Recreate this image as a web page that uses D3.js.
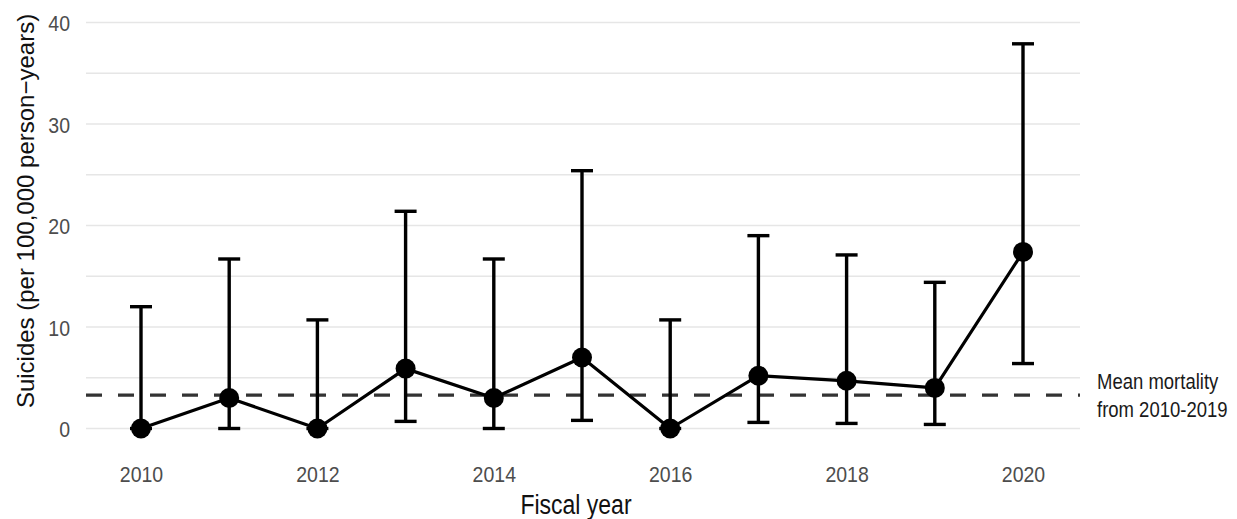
<!DOCTYPE html>
<html>
<head>
<meta charset="utf-8">
<script src="https://cdn.jsdelivr.net/npm/d3@7"></script>
<style>
  html, body { margin: 0; padding: 0; background: #fff; }
  svg { display: block; font-family: "Liberation Sans", Arial, Helvetica, sans-serif; }
</style>
</head>
<body>
<svg id="chart" width="1237" height="519"></svg>
<script>
// Suicide rate per fiscal year with 95% confidence intervals
const years = [2010, 2011, 2012, 2013, 2014, 2015, 2016, 2017, 2018, 2019, 2020];
const rate  = [0, 3.0, 0, 5.9, 3.0, 7.0, 0, 5.2, 4.7, 4.0, 17.4];
const lower = [0, 0, 0, 0.7, 0, 0.8, 0, 0.6, 0.5, 0.4, 6.4];
const upper = [12.0, 16.7, 10.7, 21.4, 16.7, 25.4, 10.7, 19.0, 17.1, 14.4, 37.9];
const xTicks = [2010, 2012, 2014, 2016, 2018, 2020];
const yTicks = [0, 10, 20, 30, 40];
const yGrid  = [0, 5, 10, 15, 20, 25, 30, 35, 40];
const baselineYears = years.filter(y => y <= 2019);
const meanLabel = ["Mean mortality", "from 2010-2019"];

const rows = years.map((yr, i) => ({ yr, rate: rate[i], lo: lower[i], hi: upper[i] }));
const meanRate = d3.mean(rows.filter(d => baselineYears.includes(d.yr)), d => d.rate);

const svg = d3.select("#chart");
const panel = { left: 86, right: 1080 };

const x = d3.scaleLinear().domain([2010, 2020]).range([141, 1023]);
const y = d3.scaleLinear().domain([0, 40]).range([428.5, 22.5]);

// labels are drawn slightly taller than their natural proportions
const textStretch = 1.17;

// grid lines
svg.append("g")
  .selectAll("line")
  .data(yGrid)
  .join("line")
  .attr("x1", panel.left).attr("x2", panel.right)
  .attr("y1", d => y(d)).attr("y2", d => y(d))
  .attr("stroke", "#e6e6e6")
  .attr("stroke-width", 1.6);

// y axis tick labels
const yAxis = d3.axisLeft(y).tickValues(yTicks).tickSize(0).tickPadding(0).tickFormat(d3.format("d"));
const gy = svg.append("g").attr("transform", "translate(70,0)").call(yAxis);
gy.select(".domain").remove();
gy.selectAll(".tick text")
  .attr("fill", "#4d4d4d")
  .attr("font-size", 19.5)
  .attr("font-family", "\"Liberation Sans\", Arial, sans-serif")
  .attr("x", 0).attr("y", 0).attr("dy", null)
  .attr("dominant-baseline", "central")
  .attr("transform", `scale(1,${textStretch})`);

// x axis tick labels
const xAxis = d3.axisBottom(x).tickValues(xTicks).tickSize(0).tickPadding(0).tickFormat(d3.format("d"));
const gx = svg.append("g").attr("transform", "translate(0,482)").call(xAxis);
gx.select(".domain").remove();
gx.selectAll(".tick text")
  .attr("fill", "#4d4d4d")
  .attr("font-size", 19.5)
  .attr("font-family", "\"Liberation Sans\", Arial, sans-serif")
  .attr("y", 0).attr("dy", null)
  .attr("text-anchor", "middle")
  .attr("transform", `scale(1,${textStretch})`);

// axis titles
svg.append("text")
  .attr("transform", `translate(576,514) scale(1,${textStretch})`)
  .attr("text-anchor", "middle")
  .attr("font-size", 23)
  .attr("fill", "#111")
  .text("Fiscal year");

svg.append("text")
  .attr("transform", "translate(34,211) rotate(-90)")
  .attr("text-anchor", "middle")
  .attr("font-size", 24)
  .attr("fill", "#111")
  .text("Suicides (per 100,000 person\u2212years)");

// mean reference line
svg.append("line")
  .attr("x1", panel.left).attr("x2", panel.right)
  .attr("y1", y(meanRate)).attr("y2", y(meanRate))
  .attr("stroke", "#333")
  .attr("stroke-width", 3.2)
  .attr("stroke-dasharray", "16,16");

const ann = svg.append("text")
  .attr("transform", `translate(1097,389) scale(1,${textStretch})`)
  .attr("font-size", 18.5)
  .attr("fill", "#1a1a1a");
ann.selectAll("tspan")
  .data(meanLabel)
  .join("tspan")
  .attr("x", 0)
  .attr("y", (d, i) => i * 24)
  .text(d => d);

// error bars
const capHalf = 11;
const eb = svg.append("g").attr("stroke", "#000").attr("stroke-width", 3.4).attr("fill", "none");
eb.selectAll("line.v").data(rows).join("line").attr("class", "v")
  .attr("x1", d => x(d.yr)).attr("x2", d => x(d.yr))
  .attr("y1", d => y(d.lo)).attr("y2", d => y(d.hi));
eb.selectAll("line.top").data(rows).join("line").attr("class", "top")
  .attr("x1", d => x(d.yr) - capHalf).attr("x2", d => x(d.yr) + capHalf)
  .attr("y1", d => y(d.hi)).attr("y2", d => y(d.hi));
eb.selectAll("line.bot").data(rows).join("line").attr("class", "bot")
  .attr("x1", d => x(d.yr) - capHalf).attr("x2", d => x(d.yr) + capHalf)
  .attr("y1", d => y(d.lo)).attr("y2", d => y(d.lo));

// connecting line
svg.append("path")
  .datum(rows)
  .attr("fill", "none")
  .attr("stroke", "#000")
  .attr("stroke-width", 3.2)
  .attr("stroke-linejoin", "round")
  .attr("d", d3.line().x(d => x(d.yr)).y(d => y(d.rate)));

// points
svg.append("g")
  .selectAll("circle")
  .data(rows)
  .join("circle")
  .attr("cx", d => x(d.yr))
  .attr("cy", d => y(d.rate))
  .attr("r", 10)
  .attr("fill", "#000");
</script>
</body>
</html>
